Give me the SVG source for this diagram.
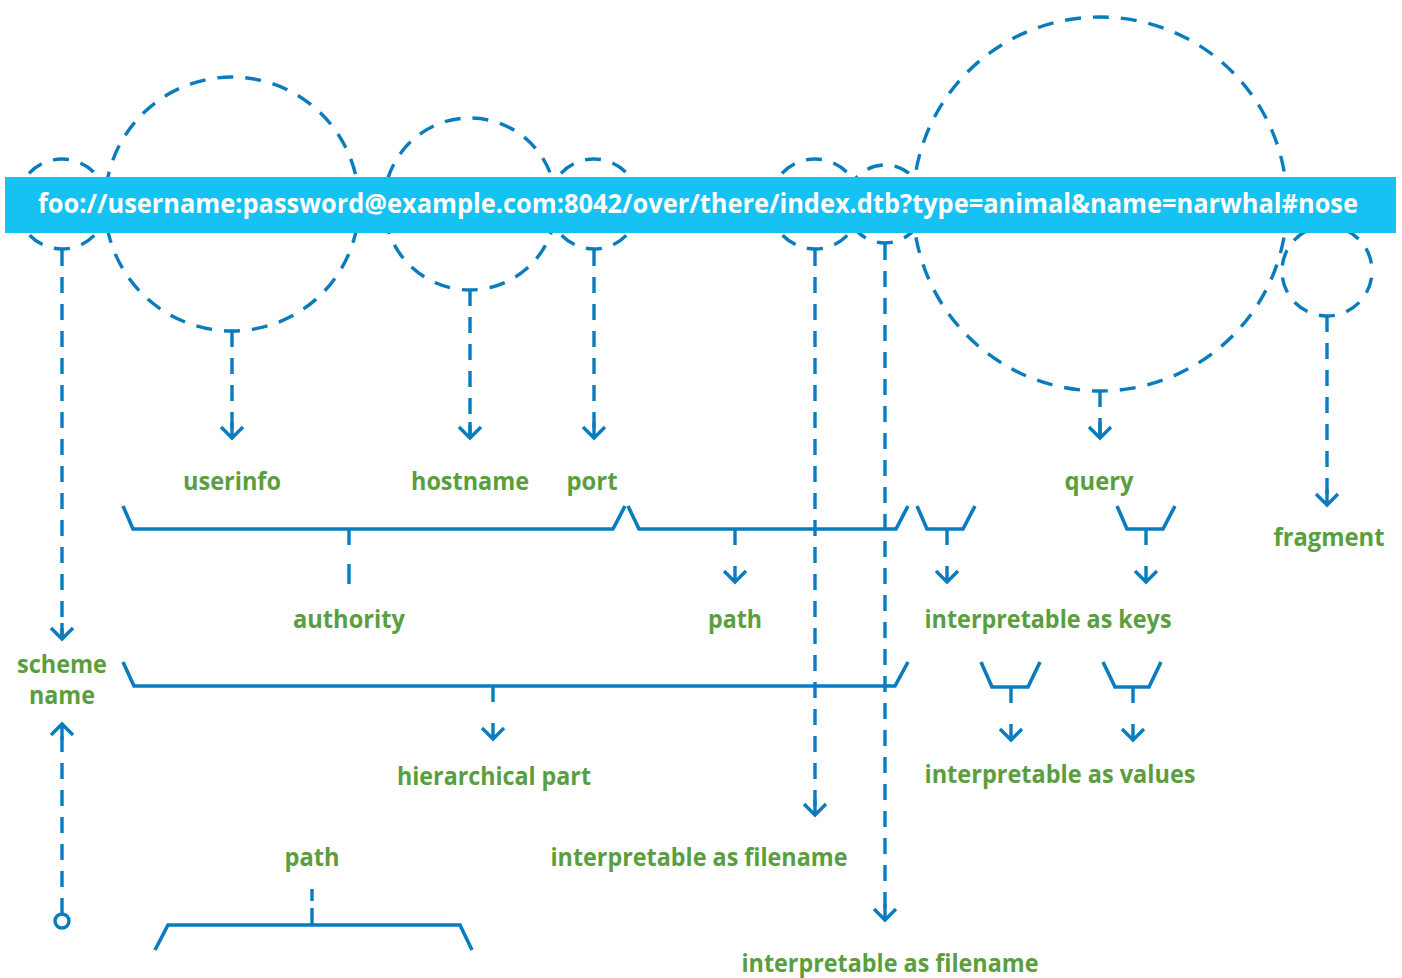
<svg xmlns="http://www.w3.org/2000/svg" width="1402" height="978" viewBox="0 0 1402 978">
<style>
.c{fill:none;stroke:#0a7cbe;stroke-width:3.4;stroke-dasharray:16 12}
.d{fill:none;stroke:#0a7cbe;stroke-width:3.4;stroke-dasharray:16 11}
.t{fill:none;stroke:#0a7cbe;stroke-width:3.4;stroke-dasharray:16 200}
.b{fill:none;stroke:#0a7cbe;stroke-width:3.6;stroke-linejoin:miter}
.s{fill:none;stroke:#0a7cbe;stroke-width:3.4}
.l{font-family:"Open Sans","Liberation Sans",sans-serif;font-weight:700;font-size:25px;fill:#5a9e40;text-anchor:middle}
.u{font-family:"Open Sans","Liberation Sans",sans-serif;font-weight:700;font-size:26px;fill:#ffffff}
</style>
<defs>
<marker id="arr" markerUnits="userSpaceOnUse" orient="auto" refX="0" refY="0" markerWidth="40" markerHeight="40" overflow="visible">
<path d="M-11,-11 L0,0 L-11,11 M0,0 L-16,0" fill="none" stroke="#0a7cbe" stroke-width="3.4" stroke-dasharray="none"/>
</marker>
</defs>
<rect width="1402" height="978" fill="#ffffff"/>
<g id="circles">
<circle id="c-scheme" class="c" cx="62" cy="204" r="45" stroke-dashoffset="21.31"/>
<circle id="c-userinfo" class="c" cx="232" cy="204" r="127" stroke-dashoffset="4.51"/>
<circle id="c-hostname" class="c" cx="470" cy="204" r="86" stroke-dashoffset="12.91"/>
<circle id="c-port" class="c" cx="594" cy="204" r="45" stroke-dashoffset="21.31"/>
<circle id="c-file" class="c" cx="815" cy="204" r="45" stroke-dashoffset="21.31"/>
<circle id="c-file2" class="c" cx="885" cy="204" r="39" stroke-dashoffset="2.74"/>
<circle id="c-query" class="c" cx="1100" cy="204" r="187" stroke-dashoffset="22.26"/>
<circle id="c-fragment" class="c" cx="1327" cy="271" r="45" stroke-dashoffset="21.31"/>
</g>
<g id="url-bar">
<rect x="5" y="177" width="1391" height="56" fill="#16c2f2"/>
<text class="u" x="38" y="213" textLength="1320" lengthAdjust="spacingAndGlyphs">foo://username:password@example.com:8042/over/there/index.dtb?type=animal&amp;name=narwhal#nose</text>
</g>
<g id="connectors">
<path class="d" d="M62,250 L62,639" marker-end="url(#arr)"/>
<path class="d" d="M232,331 L232,438" marker-end="url(#arr)"/>
<path class="d" d="M470,290 L470,438" marker-end="url(#arr)"/>
<path class="d" d="M594,250 L594,438" marker-end="url(#arr)"/>
<path class="d" d="M815,250 L815,815" marker-end="url(#arr)"/>
<path class="d" d="M885,244 L885,920" marker-end="url(#arr)"/>
<path class="d" d="M1100,391 L1100,438" marker-end="url(#arr)"/>
<path class="d" d="M1327,316 L1327,505" marker-end="url(#arr)"/>
<path class="d" d="M62,914 L62,724" marker-end="url(#arr)"/>
<circle class="s" cx="62" cy="921" r="7" fill="#ffffff"/>
<path class="s" d="M349,529 L349,545 M349,564 L349,584"/>
<path class="t" d="M735,529 L735,582" marker-end="url(#arr)"/>
<path class="t" d="M947,529 L947,582" marker-end="url(#arr)"/>
<path class="t" d="M1146,529 L1146,582" marker-end="url(#arr)"/>
<path class="t" d="M1011,687 L1011,740" marker-end="url(#arr)"/>
<path class="t" d="M1133,687 L1133,740" marker-end="url(#arr)"/>
<path class="t" d="M493,686 L493,739" marker-end="url(#arr)"/>
<path class="s" d="M312,925 L312,908 M312,901 L312,889"/>
</g>
<g id="brackets">
<path id="br-authority" class="b" d="M123,506 L133,529 L613,529 L625,506"/>
<path id="br-path" class="b" d="M628,506 L639,529 L896,529 L908,506"/>
<path id="br-key1" class="b" d="M917,506 L927,529 L963,529 L975,506"/>
<path id="br-key2" class="b" d="M1117,506 L1127,529 L1163,529 L1175,506"/>
<path id="br-val1" class="b" d="M981,662 L992,687 L1028,687 L1040,662"/>
<path id="br-val2" class="b" d="M1103,662 L1115,687 L1149,687 L1161,662"/>
<path id="br-hier" class="b" d="M123,662 L134,686 L895,686 L908,662"/>
<path id="br-path2" class="b" d="M155,950 L168,925 L460,925 L472,950"/>
</g>
<g id="labels">
<text id="t-userinfo" class="l" x="232" y="490" textLength="98" lengthAdjust="spacingAndGlyphs">userinfo</text>
<text id="t-hostname" class="l" x="470" y="490" textLength="118" lengthAdjust="spacingAndGlyphs">hostname</text>
<text id="t-port" class="l" x="592" y="490" textLength="51" lengthAdjust="spacingAndGlyphs">port</text>
<text id="t-query" class="l" x="1099" y="490" textLength="69" lengthAdjust="spacingAndGlyphs">query</text>
<text id="t-fragment" class="l" x="1329" y="546" textLength="111" lengthAdjust="spacingAndGlyphs">fragment</text>
<text id="t-authority" class="l" x="349" y="628" textLength="112" lengthAdjust="spacingAndGlyphs">authority</text>
<text id="t-path" class="l" x="735" y="628" textLength="54" lengthAdjust="spacingAndGlyphs">path</text>
<text id="t-keys" class="l" x="1048" y="628" textLength="247" lengthAdjust="spacingAndGlyphs">interpretable as keys</text>
<text id="t-scheme" class="l" x="62" y="673" textLength="90" lengthAdjust="spacingAndGlyphs">scheme</text>
<text id="t-name" class="l" x="62" y="704" textLength="66" lengthAdjust="spacingAndGlyphs">name</text>
<text id="t-hier" class="l" x="494" y="785" textLength="194" lengthAdjust="spacingAndGlyphs">hierarchical part</text>
<text id="t-values" class="l" x="1060" y="783" textLength="271" lengthAdjust="spacingAndGlyphs">interpretable as values</text>
<text id="t-path2" class="l" x="312" y="866" textLength="55" lengthAdjust="spacingAndGlyphs">path</text>
<text id="t-file1" class="l" x="699" y="866" textLength="297" lengthAdjust="spacingAndGlyphs">interpretable as filename</text>
<text id="t-file2" class="l" x="890" y="972" textLength="297" lengthAdjust="spacingAndGlyphs">interpretable as filename</text>
</g>
</svg>
